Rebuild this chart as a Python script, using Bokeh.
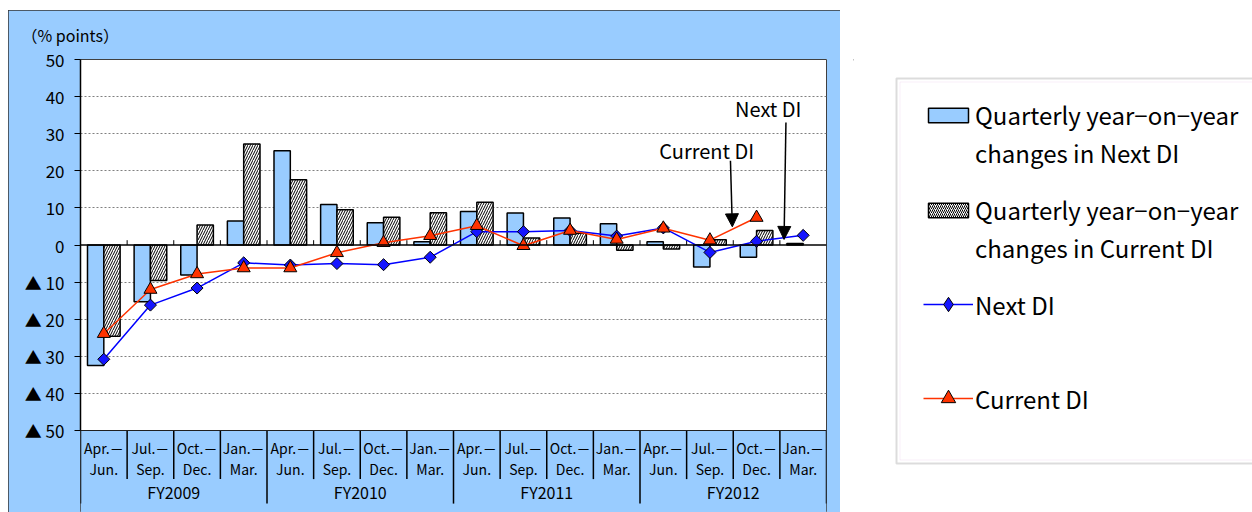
import numpy as np
from bokeh.plotting import figure
from bokeh.layouts import row
from bokeh.models import (ColumnDataSource, FixedTicker, Span, Label, Arrow, NormalHead,
                          Legend, LegendItem, BoxAnnotation, Range1d)
from bokeh.transform import dodge
from bokeh.embed import file_html
from bokeh.resources import INLINE

# ---------------- data ----------------
quarter_start = ["Apr.－", "Jul.－", "Oct.－", "Jan.－"] * 4
quarter_end = ["Jun.", "Sep.", "Dec.", "Mar."] * 4
fiscal_years = ["FY2009", "FY2010", "FY2011", "FY2012"]

# quarterly year-on-year changes (bars)
next_yoy = [-32.5, -15.3, -8.1, 6.5, 25.4, 10.9, 6.0, 0.9, 9.0, 8.6, 7.3, 5.7, 0.9, -5.9, -3.3, 0.4]
current_yoy = [-24.6, -9.6, 5.4, 27.2, 17.6, 9.5, 7.5, 8.7, 11.5, 1.9, 3.2, -1.4, -1.1, 1.4, 3.9, None]
# DI levels (lines)
next_di = [-30.8, -16.2, -11.6, -4.8, -5.4, -5.0, -5.3, -3.3, 3.6, 3.6, 3.9, 2.4, 4.6, -2.0, 1.0, 2.6]
current_di = [-23.9, -12.0, -7.8, -6.2, -6.2, -2.1, 0.6, 2.5, 5.2, -0.2, 3.9, 1.5, 4.5, 1.3, 7.4, None]

y_ticks = list(range(-50, 51, 10))

# ---------------- helpers ----------------
nan = float("nan")
clean = lambda arr: [nan if v is None else v for v in arr]
n = len(quarter_start)
pos = [i + 0.5 for i in range(n)]

src = ColumnDataSource(dict(
    x=pos,
    next_yoy=clean(next_yoy),
    current_yoy=clean(current_yoy),
    next_di=clean(next_di),
    current_di=clean(current_di),
))

FONT = "Noto Sans CJK JP"
BG = "#99CCFF"
NEXT_COLOR = "#0000FF"
CUR_COLOR = "#FF3300"
y_top = max(y_ticks)
y_bot = min(y_ticks)

p = figure(width=832, height=502, x_range=(0, n), y_range=(-72.1, y_top),
           x_axis_location=None, y_axis_location="left",
           toolbar_location=None, output_backend="svg",
           min_border_left=72, min_border_right=14, min_border_top=49, min_border_bottom=0,
           border_fill_color=BG, background_fill_color="white",
           outline_line_color="#404040", outline_line_width=1,
           margin=(10, 0, 0, 8),
           styles={"outline": "1px solid #333333", "outline-offset": "-1px"})

p.title.text = "（% points）"
p.title.align = "left"
p.title.vertical_align = "top"
p.title.offset = -59
p.title.text_font = FONT
p.title.text_font_size = "16px"
p.title.text_font_style = "normal"
p.title.text_color = "black"
p.title.standoff = 21

# y axis
yax = p.yaxis[0]
yax.ticker = FixedTicker(ticks=y_ticks)
yax.major_label_overrides = {v: "▲ %d" % (-v) for v in y_ticks if v < 0}
yax.bounds = (y_bot, y_top)
yax.axis_line_color = "black"
yax.axis_line_width = 1.5
yax.major_tick_out = 6
yax.major_tick_in = 0
yax.major_tick_line_color = "black"
yax.minor_tick_line_color = None
yax.major_label_text_font = FONT
yax.major_label_text_font_size = "17px"
yax.major_label_text_color = "black"
yax.major_label_standoff = 10

p.xgrid.visible = False
p.ygrid.ticker = FixedTicker(ticks=[t for t in y_ticks if t not in (0, y_top, y_bot)])
p.ygrid.grid_line_color = "#808080"
p.ygrid.grid_line_dash = "2 2"
p.ygrid.grid_line_width = 1

# category label area (below the plot area)
p.add_layout(BoxAnnotation(top=y_bot, fill_color=BG, fill_alpha=1, line_color=None, level="underlay"))
p.add_layout(Span(location=y_bot, dimension="width", line_color="#202020", line_width=1.2))

# bars
p.vbar(x=dodge("x", -0.175), top="next_yoy", width=0.35, source=src,
       fill_color=BG, line_color="black", line_width=1.5)
p.vbar(x=dodge("x", 0.175), top="current_yoy", width=0.35, source=src,
       fill_color="white", hatch_pattern="/", hatch_color="black", hatch_scale=5,
       hatch_weight=1, line_color="black", line_width=1.5)

# zero line with boundary ticks
p.add_layout(Span(location=0, dimension="width", line_color="black", line_width=1.5))
bounds_inner = list(range(1, n))
p.segment(x0=bounds_inner, y0=[0] * len(bounds_inner), x1=bounds_inner, y1=[1.3] * len(bounds_inner),
          line_color="black", line_width=1)

# lines
p.line("x", "next_di", source=src, line_color=NEXT_COLOR, line_width=1.5)
p.scatter("x", "next_di", source=src, marker="square", angle=np.pi / 4, size=8.5,
          fill_color="#1515FF", line_color="black", line_width=1)
p.line("x", "current_di", source=src, line_color=CUR_COLOR, line_width=1.5)
p.scatter("x", "current_di", source=src, marker="triangle", size=13,
          fill_color=CUR_COLOR, line_color="black", line_width=1)

# category axis (two levels, table style)
q_sep = [i for i in range(1, n) if i % 4]
fy_sep = list(range(0, n + 1, 4))
p.segment(x0=q_sep, y0=[y_bot] * len(q_sep), x1=q_sep, y1=[-63.1] * len(q_sep),
          line_color="black", line_width=1.5)
p.segment(x0=fy_sep, y0=[y_bot] * len(fy_sep), x1=fy_sep, y1=[-69.7] * len(fy_sep),
          line_color="black", line_width=1.5)
p.text(x=pos, y=[-54.6] * n, text=quarter_start, text_align="center", text_baseline="middle",
       text_font={"value": FONT}, text_font_size="14px", text_color="black")
p.text(x=pos, y=[-60.3] * n, text=quarter_end, text_align="center", text_baseline="middle",
       text_font={"value": FONT}, text_font_size="14px", text_color="black")
fy_pos = [(fy_sep[i] + fy_sep[i + 1]) / 2 for i in range(len(fiscal_years))]
p.text(x=fy_pos, y=[-66.7] * len(fy_pos), text=fiscal_years, text_align="center",
       text_baseline="middle", text_font={"value": FONT}, text_font_size="16px", text_color="black")

# annotations
p.add_layout(Label(x=13.43, y=25.4, text="Current DI", text_align="center", text_baseline="middle",
                   text_font=FONT, text_font_size="20px", text_color="black"))
p.add_layout(Label(x=14.75, y=36.8, text="Next DI", text_align="center", text_baseline="middle",
                   text_font=FONT, text_font_size="20px", text_color="black"))
p.add_layout(Arrow(end=NormalHead(size=13, fill_color="black", line_color="black"),
                   x_start=13.94, y_start=22.7, x_end=13.98, y_end=4.9,
                   line_color="black", line_width=1.5))
p.add_layout(Arrow(end=NormalHead(size=13, fill_color="black", line_color="black"),
                   x_start=15.13, y_start=33.0, x_end=15.09, y_end=1.5,
                   line_color="black", line_width=1.5))

# ---------------- legend panel ----------------
L_LEFT = 13
p2 = figure(width=412, height=502, x_axis_location=None, y_axis_location=None,
            x_range=Range1d(0, 412 - L_LEFT), y_range=Range1d(453, 0),
            toolbar_location=None, output_backend="svg",
            min_border_left=L_LEFT, min_border_right=0, min_border_top=49, min_border_bottom=0,
            outline_line_color=None, margin=(10, 0, 0, 0),
            background_fill_color="white", border_fill_color="white")
p2.grid.visible = False

# legend frame
p2.add_layout(BoxAnnotation(left=43, right=420, top=19, bottom=404, fill_alpha=0,
                            line_color="#8c8c8c", line_width=2))
p2.add_layout(BoxAnnotation(left=46.5, right=420, top=22.5, bottom=400.5, fill_alpha=0,
                            line_color="#ecc8ec", line_width=1))

far = [-1000]
d1 = p2.vbar(x=far, top=far, width=1, fill_color=BG, line_color="black", line_width=1.5)
d2 = p2.vbar(x=far, top=far, width=1, fill_color="white", hatch_pattern="/", hatch_color="black",
             hatch_scale=4, hatch_weight=1, line_color="black", line_width=1.5)
d3l = p2.line(x=far, y=far, line_color=NEXT_COLOR, line_width=1.5)
d3s = p2.scatter(x=far, y=far, marker="diamond", size=9, fill_color="#1515FF",
                 line_color="black", line_width=1)
d4l = p2.line(x=far, y=far, line_color=CUR_COLOR, line_width=1.5)
d4s = p2.scatter(x=far, y=far, marker="triangle", size=13, fill_color=CUR_COLOR,
                 line_color="black", line_width=1)
blank = p2.line(x=far, y=far, line_alpha=0)

common = dict(margin=0, padding=0, glyph_width=50, label_standoff=2,
              label_text_font=FONT, label_text_font_size="24px", label_text_color="black",
              border_line_color=None, background_fill_alpha=0)
leg_next = Legend(items=[
    LegendItem(label="Quarterly year−on−year", renderers=[d1]),
    LegendItem(label="changes in Next DI", renderers=[blank]),
], location=(70, 342), spacing=3, glyph_height=18, **common)
leg_cur = Legend(items=[
    LegendItem(label="Quarterly year−on−year", renderers=[d2]),
    LegendItem(label="changes in Current DI", renderers=[blank]),
], location=(70, 247), spacing=3, glyph_height=18, **common)
leg_lines = Legend(items=[
    LegendItem(label="Next DI", renderers=[d3l, d3s]),
    LegendItem(label="Current DI", renderers=[d4l, d4s]),
], location=(70, 96), spacing=58, glyph_height=36, **common)
p2.add_layout(leg_next)
p2.add_layout(leg_cur)
p2.add_layout(leg_lines)

layout = row(p, p2)
open("out.html", "w").write(file_html(layout, INLINE))
